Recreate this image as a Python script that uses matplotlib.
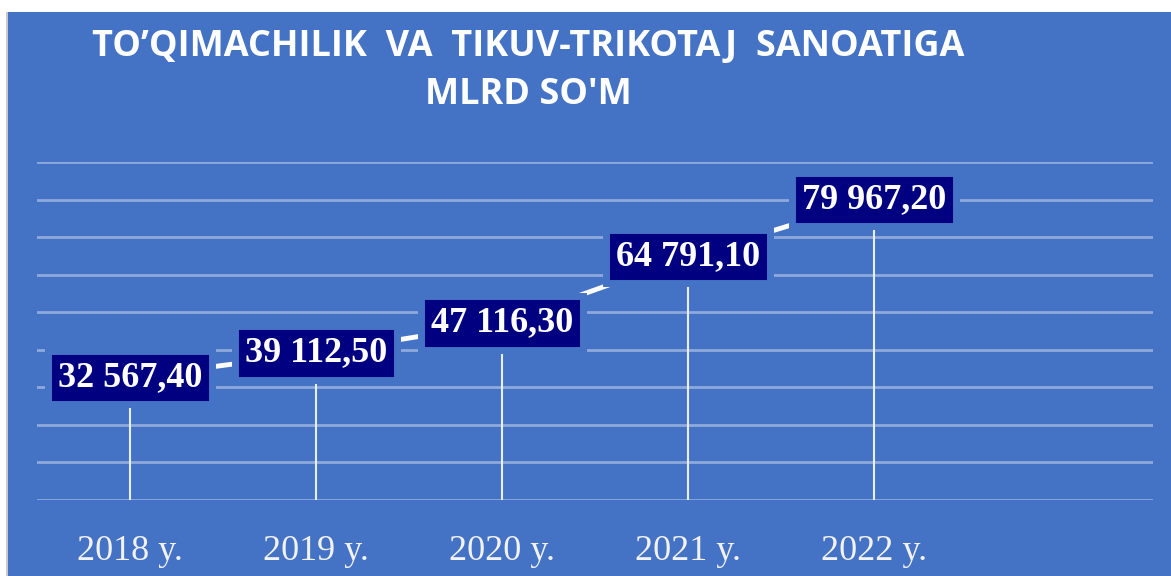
import matplotlib.pyplot as plt
from matplotlib.patches import Rectangle

# data
years = ['2018 y.', '2019 y.', '2020 y.', '2021 y.', '2022 y.']
values = [32567.40, 39112.50, 47116.30, 64791.10, 79967.20]
labels = ['32 567,40', '39 112,50', '47 116,30', '64 791,10', '79 967,20']

bg = '#4472c4'
grid_col = '#8eaadb'

fig = plt.figure(figsize=(11.71, 5.76), dpi=100)
fig.patch.set_facecolor('white')
# blue chart area, white strip on top and thin grey frame on the left
fig.patches.append(Rectangle((6 / 1171, 0), 2 / 1171, 564 / 576, transform=fig.transFigure,
                             facecolor='#c8c8c8', edgecolor='none', zorder=-10))
fig.patches.append(Rectangle((8 / 1171, 0), 1, 564 / 576, transform=fig.transFigure,
                             facecolor=bg, edgecolor='none', zorder=-10))

ax = fig.add_axes([37 / 1171, 76 / 576, 1116 / 1171, 338 / 576])
ax.set_facecolor('none')
x = list(range(len(values)))

ax.set_ylim(0, 90000)
ax.set_xlim(-0.5, 5.5)
ax.set_yticks(range(0, 90001, 10000))
ax.yaxis.grid(True, color=grid_col, linewidth=2)
ax.set_axisbelow(True)
for s in ax.spines.values():
    s.set_visible(False)
ax.tick_params(left=False, bottom=False, labelleft=False)
ax.set_xticks(x)
ax.set_xticklabels(years, family='Liberation Serif', fontsize=26, color='#f2f2f2')
ax.tick_params(axis='x', pad=22)

# drop lines
ax.vlines(x, 0, values, color='#e8eefa', linewidth=1.5, zorder=2)
# main line
ax.plot(x, values, color='white', linewidth=3.5, zorder=3, solid_capstyle='butt')

for xi, v, t in zip(x, values, labels):
    ax.text(xi, v, t, ha='center', va='center', family='Liberation Serif',
            fontweight='bold', fontsize=26, color='white', zorder=5,
            bbox=dict(boxstyle='square,pad=0.28', facecolor='#000080',
                      edgecolor=bg, linewidth=5))

fig.text(528 / 1171, 1 - 47 / 576, 'TO\u2019QIMACHILIK  VA  TIKUV-TRIKOTAJ  SANOATIGA',
         ha='center', va='center', family='Open Sans', fontweight='bold',
         fontsize=26, color='white')
fig.text(528 / 1171, 1 - 95 / 576, "MLRD SO'M", ha='center', va='center',
         family='Open Sans', fontweight='bold', fontsize=26, color='white')

fig.savefig('out.png', dpi=100)
